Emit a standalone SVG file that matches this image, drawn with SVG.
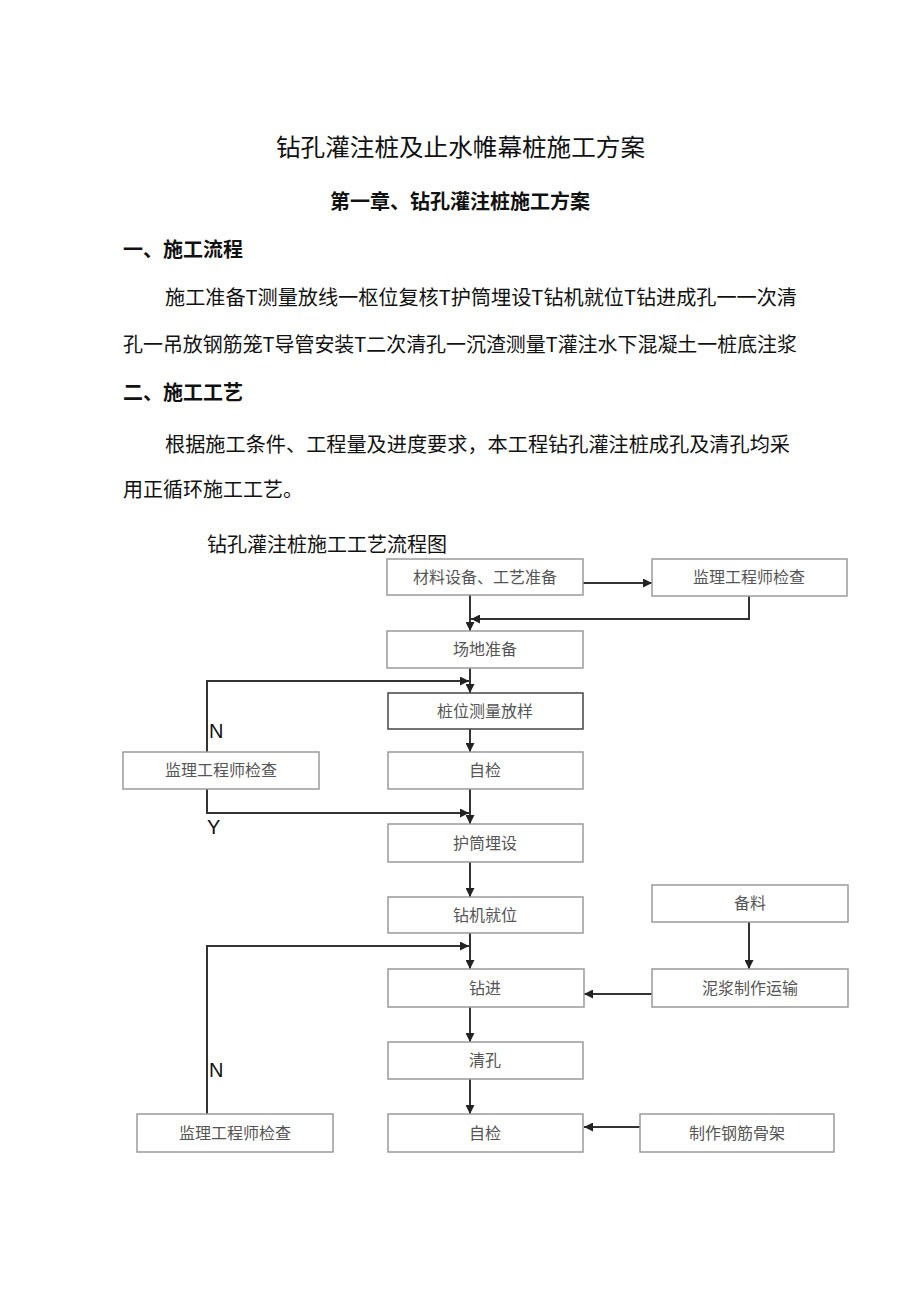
<svg xmlns="http://www.w3.org/2000/svg" width="920" height="1301" viewBox="0 0 920 1301">
<defs>
<style>
.cjk{font-family:"Noto Sans CJK SC","Noto Sans",sans-serif;fill:#111;}
.t1{font-size:24px;}
.h{font-size:20px;font-weight:bold;}
.p{font-size:20px;}
.box rect{fill:#fff;stroke:#9a9a9a;stroke-width:1.5;}
.box text{font-family:"Noto Sans CJK SC","Noto Sans",sans-serif;font-size:16px;fill:#555;text-anchor:middle;}
.dark rect{stroke:#444;}
.lbl{font-family:"Liberation Sans",Arial,sans-serif;font-size:20px;fill:#111;}
.conn path{fill:none;stroke:#333;stroke-width:2;}
</style>
<marker id="arr" markerUnits="userSpaceOnUse" markerWidth="9" markerHeight="9" refX="9" refY="4.5" orient="auto" viewBox="0 0 9 9">
<path d="M0,0 L9,4.5 L0,9 z" fill="#222"/>
</marker>
</defs>
<rect width="920" height="1301" fill="#fff"/>

<text class="cjk t1" x="276" y="156" textLength="369" lengthAdjust="spacingAndGlyphs">钻孔灌注桩及止水帷幕桩施工方案</text>
<text class="cjk h" x="460" y="209" text-anchor="middle">第一章、钻孔灌注桩施工方案</text>
<text class="cjk h" x="123" y="257">一、施工流程</text>
<text class="cjk p" x="165" y="305" textLength="632" lengthAdjust="spacingAndGlyphs">施工准备T测量放线一枢位复核T护筒埋设T钻机就位T钻进成孔一一次清</text>
<text class="cjk p" x="123" y="352" textLength="674" lengthAdjust="spacingAndGlyphs">孔一吊放钢筋笼T导管安装T二次清孔一沉渣测量T灌注水下混凝土一桩底注浆</text>
<text class="cjk h" x="123" y="400">二、施工工艺</text>
<text class="cjk p" x="165" y="452" textLength="625" lengthAdjust="spacingAndGlyphs">根据施工条件、工程量及进度要求，本工程钻孔灌注桩成孔及清孔均采</text>
<text class="cjk p" x="123" y="497">用正循环施工工艺。</text>
<text class="cjk p" x="207" y="552">钻孔灌注桩施工工艺流程图</text>

<g class="conn">
<path d="M470,595 V631" marker-end="url(#arr)"/>
<path d="M583,583 H652" marker-end="url(#arr)"/>
<path d="M749,596 V619 H471" marker-end="url(#arr)"/>
<path d="M470,668 V693" marker-end="url(#arr)"/>
<path d="M207,752 V681 H469" marker-end="url(#arr)"/>
<path d="M470,729 V752" marker-end="url(#arr)"/>
<path d="M470,789 V824" marker-end="url(#arr)"/>
<path d="M207,789 V813 H469" marker-end="url(#arr)"/>
<path d="M470,862 V897" marker-end="url(#arr)"/>
<path d="M470,933 V969" marker-end="url(#arr)"/>
<path d="M207,1114 V946 H469" marker-end="url(#arr)"/>
<path d="M749,922 V969" marker-end="url(#arr)"/>
<path d="M652,994 H584" marker-end="url(#arr)"/>
<path d="M470,1007 V1042" marker-end="url(#arr)"/>
<path d="M470,1079 V1114" marker-end="url(#arr)"/>
<path d="M640,1127 H584" marker-end="url(#arr)"/>
</g>

<g id="n1" class="box"><rect x="387" y="559" width="196" height="36"/><text x="485" y="583">材料设备、工艺准备</text></g>
<g id="n2" class="box"><rect x="652" y="559" width="195" height="37"/><text x="749" y="583">监理工程师检查</text></g>
<g id="n3" class="box"><rect x="387" y="631" width="196" height="37"/><text x="485" y="655">场地准备</text></g>
<g id="n4" class="box dark"><rect x="388" y="693" width="195" height="36"/><text x="485" y="717">桩位测量放样</text></g>
<g id="n5" class="box"><rect x="388" y="752" width="195" height="37"/><text x="485" y="776">自检</text></g>
<g id="n6" class="box"><rect x="123" y="752" width="196" height="37"/><text x="221" y="776">监理工程师检查</text></g>
<g id="n7" class="box"><rect x="388" y="824" width="195" height="38"/><text x="485" y="849">护筒埋设</text></g>
<g id="n8" class="box"><rect x="388" y="897" width="195" height="36"/><text x="485" y="921">钻机就位</text></g>
<g id="n9" class="box"><rect x="652" y="885" width="196" height="37"/><text x="750" y="909">备料</text></g>
<g id="n10" class="box"><rect x="388" y="969" width="196" height="38"/><text x="485" y="994">钻进</text></g>
<g id="n11" class="box"><rect x="652" y="969" width="196" height="38"/><text x="750" y="994">泥浆制作运输</text></g>
<g id="n12" class="box"><rect x="388" y="1042" width="195" height="37"/><text x="485" y="1066">清孔</text></g>
<g id="n13" class="box"><rect x="388" y="1114" width="195" height="38"/><text x="485" y="1139">自检</text></g>
<g id="n14" class="box"><rect x="137" y="1114" width="196" height="38"/><text x="235" y="1139">监理工程师检查</text></g>
<g id="n15" class="box"><rect x="640" y="1114" width="194" height="38"/><text x="737" y="1139">制作钢筋骨架</text></g>

<text class="lbl" x="209" y="738">N</text>
<text class="lbl" x="207" y="834">Y</text>
<text class="lbl" x="209" y="1077">N</text>
</svg>
